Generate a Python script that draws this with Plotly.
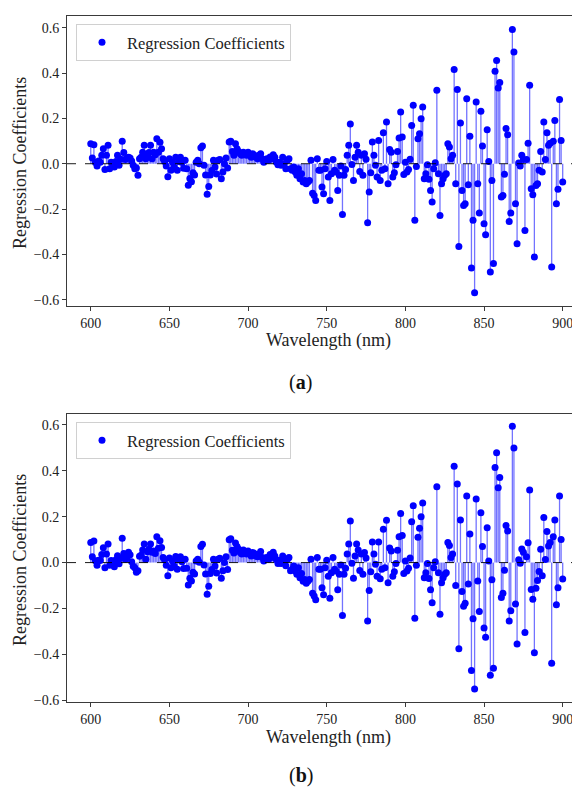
import plotly.graph_objects as go

wavelength = list(range(600, 901))

coef_a = [
    0.088, 0.025, 0.084, 0.005, -0.010, 0.012, 0.007, 0.037, 0.066, -0.025,
    0.037, 0.081, -0.022, 0.007, 0.000, -0.015, 0.010, 0.037, -0.007, 0.020,
    0.099, 0.049, 0.019, 0.025, 0.029, 0.025, 0.012, -0.007, -0.022, -0.019,
    -0.051, 0.022, 0.029, 0.051, 0.081, 0.022, 0.037, 0.050, 0.081, 0.022,
    0.051, 0.040, 0.110, 0.051, 0.095, 0.066, 0.022, 0.010, -0.010, -0.057,
    0.022, -0.029, 0.007, -0.015, 0.029, -0.029, 0.010, 0.029, 0.005, -0.020,
    0.015, -0.022, -0.095, -0.065, -0.080, -0.040, -0.050, 0.007, 0.015, 0.000,
    0.070, 0.078, -0.007, -0.050, -0.135, -0.100, -0.050, -0.030, 0.015, -0.015,
    -0.045, 0.015, 0.019, -0.066, -0.037, 0.000, 0.025, -0.019, 0.096, 0.099,
    0.054, 0.037, 0.088, 0.066, 0.054, 0.044, 0.037, 0.051, 0.044, 0.037,
    0.051, 0.037, 0.029, 0.044, 0.037, 0.029, 0.022, 0.037, 0.044, 0.022,
    0.007, 0.015, 0.022, 0.015, 0.030, 0.022, 0.040, 0.029, 0.007, -0.004,
    0.007, -0.007, 0.029, 0.000, -0.022, 0.015, 0.022, -0.022, -0.029, -0.015,
    -0.037, -0.051, -0.022, -0.066, -0.044, -0.081, -0.074, -0.088, -0.081, -0.074,
    0.015, -0.130, -0.140, -0.162, 0.022, -0.029, -0.029, -0.103, -0.132, -0.022,
    0.010, -0.059, -0.162, -0.044, 0.019, -0.029, -0.037, -0.118, -0.051, -0.010,
    -0.224, -0.051, -0.025, 0.037, 0.081, 0.175, -0.003, -0.074, 0.029, 0.081,
    0.051, -0.034, 0.037, -0.051, 0.044, 0.020, -0.260, -0.125, -0.040, 0.096,
    0.037, -0.007, -0.059, 0.103, -0.074, -0.029, 0.137, -0.022, 0.184, -0.088,
    0.063, 0.051, -0.059, -0.040, -0.004, 0.054, 0.113, 0.228, 0.118, -0.048,
    0.007, -0.037, -0.025, 0.020, 0.169, 0.258, -0.250, -0.012, 0.110, 0.132,
    0.199, 0.250, -0.066, -0.044, -0.004, -0.069, -0.118, -0.169, -0.022, 0.004,
    0.324, -0.044, -0.228, -0.088, -0.066, -0.051, -0.044, 0.088, 0.074, 0.022,
    0.037, 0.416, -0.088, 0.328, -0.365, 0.180, -0.118, -0.184, -0.177, 0.287,
    -0.093, 0.121, -0.460, -0.250, -0.570, 0.272, -0.088, -0.218, 0.232, 0.078,
    -0.265, -0.313, 0.150, 0.010, -0.478, -0.074, -0.440, 0.408, 0.456, 0.334,
    0.358, -0.147, -0.140, -0.046, 0.155, 0.128, -0.255, -0.218, 0.592, 0.493,
    -0.177, -0.353, 0.003, -0.010, 0.037, 0.019, -0.295, 0.019, 0.090, 0.346,
    -0.110, -0.137, -0.412, -0.096, -0.088, -0.029, 0.054, -0.037, 0.184, 0.019,
    0.137, 0.081, 0.090, -0.456, 0.099, 0.191, -0.177, -0.113, 0.283, 0.103,
    -0.081,
]

coef_b = [
    0.088, 0.025, 0.094, 0.008, -0.012, 0.010, 0.009, 0.035, 0.065, -0.022,
    0.037, 0.081, -0.012, 0.009, -0.004, -0.018, 0.012, 0.030, -0.005, 0.020,
    0.106, 0.040, 0.015, 0.022, 0.045, 0.034, 0.004, -0.016, -0.022, -0.042,
    -0.035, 0.028, 0.032, 0.055, 0.081, 0.015, 0.047, 0.058, 0.081, 0.045,
    0.051, 0.040, 0.113, 0.062, 0.095, 0.066, 0.022, 0.012, -0.012, -0.057,
    0.020, -0.022, 0.007, -0.015, 0.026, -0.029, 0.012, 0.025, 0.004, -0.026,
    0.015, -0.025, -0.098, -0.068, -0.080, -0.042, -0.050, 0.007, 0.015, 0.002,
    0.070, 0.080, -0.010, -0.050, -0.138, -0.103, -0.048, -0.030, 0.015, -0.015,
    -0.045, 0.015, 0.019, -0.068, -0.035, 0.000, 0.025, -0.030, 0.100, 0.104,
    0.054, 0.042, 0.085, 0.070, 0.058, 0.044, 0.037, 0.055, 0.044, 0.037,
    0.051, 0.037, 0.029, 0.044, 0.040, 0.029, 0.025, 0.037, 0.048, 0.022,
    0.007, 0.020, 0.022, 0.015, 0.035, 0.022, 0.045, 0.029, 0.012, -0.004,
    0.010, -0.004, 0.029, 0.004, -0.014, 0.015, 0.022, -0.036, -0.029, -0.015,
    -0.037, -0.051, -0.022, -0.066, -0.048, -0.081, -0.074, -0.090, -0.081, -0.074,
    0.015, -0.133, -0.145, -0.162, 0.022, -0.029, -0.029, -0.110, -0.140, -0.022,
    0.010, -0.059, -0.155, -0.044, 0.022, -0.029, -0.037, -0.118, -0.051, -0.010,
    -0.230, -0.051, -0.025, 0.037, 0.081, 0.181, -0.003, -0.068, 0.029, 0.081,
    0.055, -0.034, 0.037, -0.051, 0.044, 0.020, -0.254, -0.122, -0.040, 0.090,
    0.037, -0.007, -0.059, 0.090, -0.070, -0.029, 0.145, -0.022, 0.184, -0.088,
    0.063, 0.051, -0.059, -0.040, -0.004, 0.054, 0.113, 0.214, 0.118, -0.048,
    0.007, -0.037, -0.025, 0.020, 0.178, 0.248, -0.242, -0.012, 0.110, 0.149,
    0.200, 0.260, -0.066, -0.044, -0.004, -0.069, -0.118, -0.175, -0.022, 0.004,
    0.330, -0.044, -0.225, -0.088, -0.066, -0.051, -0.044, 0.088, 0.074, 0.022,
    0.037, 0.420, -0.100, 0.342, -0.375, 0.186, -0.126, -0.190, -0.177, 0.290,
    -0.093, 0.125, -0.470, -0.245, -0.550, 0.277, -0.080, -0.213, 0.217, 0.070,
    -0.285, -0.325, 0.152, 0.007, -0.490, -0.075, -0.460, 0.414, 0.478, 0.326,
    0.371, -0.152, -0.133, -0.033, 0.161, 0.138, -0.254, -0.210, 0.594, 0.499,
    -0.180, -0.355, 0.012, -0.003, 0.059, 0.045, -0.304, 0.025, 0.086, 0.316,
    -0.117, -0.160, -0.393, -0.112, -0.078, -0.039, 0.058, -0.057, 0.196, 0.014,
    0.135, 0.072, 0.087, -0.438, 0.113, 0.186, -0.184, -0.110, 0.290, 0.101,
    -0.071,
]

legend_label = "Regression Coefficients"
x_title = "Wavelength (nm)"
y_title = "Regression Coefficients"
panel_labels = ["(<b>a</b>)", "(<b>b</b>)"]
x_ticks = [600, 650, 700, 750, 800, 850, 900]
y_ticks = [-0.6, -0.4, -0.2, 0.0, 0.2, 0.4, 0.6]

# page body has an 8px margin: figure drawn at (8, 8) in the window
OFF = 8
W, H = 580 - OFF, 790 - OFF
FONT = "Liberation Serif, Times New Roman, serif"
MARK = "#0000ff"
STEM = "rgba(40,40,255,0.65)"


def stems(xv, yv):
    xs, ys = [], []
    for a, b in zip(xv, yv):
        xs += [a, a, None]
        ys += [0, b, None]
    return xs, ys


fig = go.Figure()
for coef, xa, ya, lg in [(coef_a, "x", "y", "legend"), (coef_b, "x2", "y2", "legend2")]:
    sx, sy = stems(wavelength, coef)
    fig.add_trace(go.Scatter(x=sx, y=sy, mode="lines", xaxis=xa, yaxis=ya,
                             line=dict(color=STEM, width=1.3),
                             showlegend=False, hoverinfo="skip"))
    fig.add_trace(go.Scatter(x=wavelength, y=coef, mode="markers", xaxis=xa, yaxis=ya,
                             marker=dict(color=MARK, size=7),
                             name=legend_label, legend=lg))


def px_x(p):
    return (p - OFF) / W


def px_y(p):
    return 1 - (p - OFF) / H


xdom = [px_x(67), 1.0]
top_dom = [px_y(306), px_y(16)]
bot_dom = [px_y(702), px_y(414)]
xrange_ = [584.9, 911.0]

axis_common = dict(
    showgrid=False, zeroline=False, showline=True, linecolor="#3a3a3a", linewidth=1,
    ticks="outside", ticklen=4, tickwidth=1, tickcolor="#3a3a3a", automargin=False,
    tickfont=dict(family=FONT, size=14, color="#222"),
)

legend_common = dict(xanchor="left", yanchor="top", bgcolor="white",
                     bordercolor="#d0d0d0", borderwidth=1, itemwidth=40,
                     font=dict(family=FONT, size=16.5, color="#222"))

fig.update_layout(
    width=W, height=H,
    margin=dict(l=0, r=0, t=0, b=0, autoexpand=False),
    paper_bgcolor="white", plot_bgcolor="white",
    font=dict(family=FONT),
    xaxis=dict(domain=xdom, range=xrange_, tickvals=x_ticks, anchor="y", mirror=True,
               **axis_common),
    yaxis=dict(domain=top_dom, range=[-0.628, 0.652], tickvals=y_ticks, tickformat=".1f",
               anchor="x", **axis_common),
    xaxis2=dict(domain=xdom, range=xrange_, tickvals=x_ticks, anchor="y2", mirror=True,
                **axis_common),
    yaxis2=dict(domain=bot_dom, range=[-0.607, 0.647], tickvals=y_ticks, tickformat=".1f",
                anchor="x2", **axis_common),
    legend=dict(x=px_x(76), y=px_y(24), **legend_common),
    legend2=dict(x=px_x(76), y=px_y(422), **legend_common),
    shapes=[
        dict(type="line", xref="x domain", yref="y", x0=0, x1=1, y0=0, y1=0,
             line=dict(color="black", width=0.9, dash="dash"), layer="above"),
        dict(type="line", xref="x2 domain", yref="y2", x0=0, x1=1, y0=0, y1=0,
             line=dict(color="black", width=0.9, dash="dash"), layer="above"),
    ],
)

ann = []
for yc_title, yc_x, yc_lab, lab in [(163, 341, 382, panel_labels[0]),
                                      (560, 737, 775, panel_labels[1])]:
    ann.append(dict(text=y_title, x=px_x(20), y=px_y(yc_title), xref="paper", yref="paper",
                    textangle=-90, showarrow=False, xanchor="center", yanchor="middle",
                    font=dict(family=FONT, size=18, color="#222")))
    ann.append(dict(text=x_title, x=px_x(328), y=px_y(yc_x), xref="paper", yref="paper",
                    showarrow=False, xanchor="center", yanchor="middle",
                    font=dict(family=FONT, size=18, color="#222")))
    ann.append(dict(text=lab, x=px_x(301), y=px_y(yc_lab), xref="paper", yref="paper",
                    showarrow=False, xanchor="center", yanchor="middle",
                    font=dict(family=FONT, size=20, color="#111")))
fig.update_layout(annotations=ann)

fig.write_html("out.html")
